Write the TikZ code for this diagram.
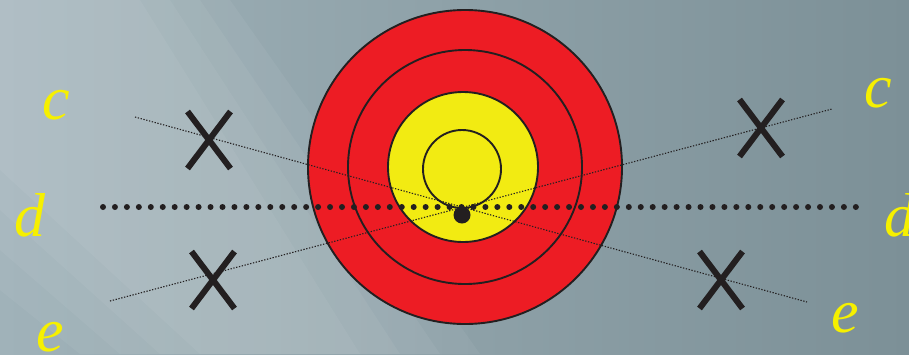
\documentclass[tikz,border=0pt]{standalone}
\usepackage{fontspec}
\setmainfont{Liberation Serif}
\usetikzlibrary{positioning, shapes.misc}
\definecolor{ringred}{RGB}{237,28,36}
\definecolor{ringyellow}{RGB}{242,235,18}
\definecolor{ink}{RGB}{35,31,32}
\definecolor{bgleft}{RGB}{160,178,185}
\definecolor{bgright}{RGB}{124,144,151}
\definecolor{lblyellow}{RGB}{246,240,0}

\begin{document}
\begin{tikzpicture}[
	x=1pt, y=-1pt,
	ring/.style={circle, draw=ink, line width=1.9pt, inner sep=0pt},
	miss/.style={
		cross out,
		draw=ink,
		line width=6pt,
		minimum width=37pt,
		minimum height=51pt,
		inner sep=0pt
	},
	lbl/.style={text=lblyellow, font=\fontsize{62}{62}\selectfont\itshape, inner sep=0pt},
	sight/.style={ink, line width=1.1pt, dash pattern=on 1.3pt off 1.6pt},
	axis/.style={ink, line width=6pt, line cap=round, dash pattern=on 0pt off 11.95pt},
	glow/.style={white, opacity=0.05}
	]
	
	% -------------------------------
	% FONDO
	% -------------------------------
	\useasboundingbox (0,0) rectangle (909,354);
	\fill[left color=bgleft, right color=bgright] (0,0) rectangle (909,354);
	\fill[glow] (0,0) -- (230,0) -- (480,354) -- (80,354) -- (0,290) -- cycle;
	\fill[glow] (0,0) -- (200,0) -- (440,354) -- (120,354) -- (0,250) -- cycle;
	\fill[glow] (0,0) -- (170,0) -- (400,354) -- (160,354) -- (0,210) -- cycle;
	\fill[glow] (0,0) -- (140,0) -- (360,354) -- (200,354) -- (0,170) -- cycle;
	
	% -------------------------------
	% DIANA
	% -------------------------------
	\node[ring, fill=ringred, minimum size=314pt] (outer) at (465,167) {};
	\node[ring, fill=ringred, minimum size=234pt] (middle) at (465,167) {};
	\node[ring, fill=ringyellow, minimum size=150pt] (gold) at (463,167) {};
	\node[ring, minimum size=78pt] (inner) at (462,169) {};
	
	% -------------------------------
	% LINEAS
	% -------------------------------
	\coordinate (d1) at (103,207);
	\coordinate (d2) at (856,207);
	\coordinate (c1) at (135,117);
	\coordinate (e2) at (807,302);
	\coordinate (e1) at (110,301);
	\coordinate (c2) at (832,109);
	
	\draw[axis] (d1) -- (d2);
	\draw[sight] (c1) -- (e2);
	\draw[sight] (e1) -- (c2);
	
	\node[circle, fill=ink, minimum size=17pt, inner sep=0pt] (hit) at (462,215) {};
	
	% -------------------------------
	% FALLOS
	% -------------------------------
	\node[miss] (x1) at (209,140) {};
	\node[miss] (x2) at (761,128) {};
	\node[miss] (x3) at (213,280) {};
	\node[miss] (x4) at (721,280) {};
	
	% -------------------------------
	% ETIQUETAS
	% -------------------------------
	\node[lbl] (lc) at (56,105) {c};
	\node[lbl] (ld) at (30,215) {d};
	\node[lbl] (le) at (50,337) {e};
	\node[lbl] (rc) at (878,93) {c};
	\node[lbl] (rd) at (900,215) {d};
	\node[lbl] (re) at (845,318) {e};
	
\end{tikzpicture}
\end{document}
